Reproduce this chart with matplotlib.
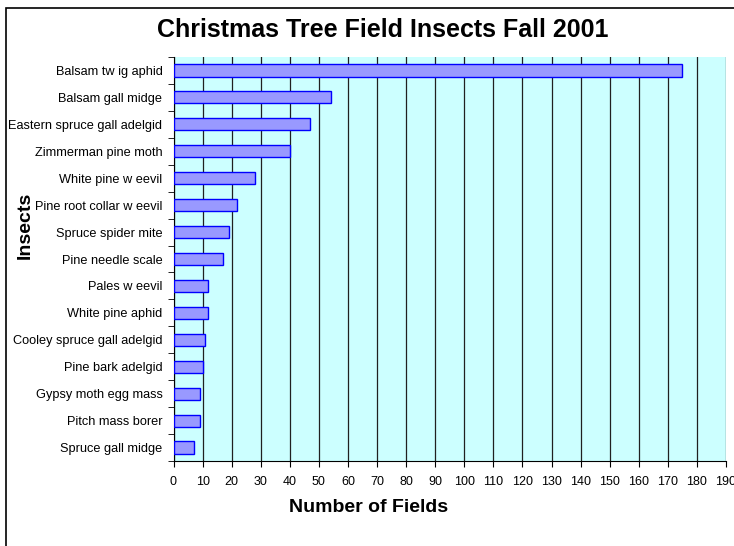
import matplotlib
matplotlib.use("Agg")
import matplotlib.pyplot as plt
from matplotlib.patches import Rectangle

plt.rcParams['font.family'] = ['Liberation Sans', 'DejaVu Sans']

# datos (de arriba hacia abajo)
insectos = [
    "Balsam tw ig aphid",
    "Balsam gall midge",
    "Eastern spruce gall adelgid",
    "Zimmerman pine moth",
    "White pine w eevil",
    "Pine root collar w eevil",
    "Spruce spider mite",
    "Pine needle scale",
    "Pales w eevil",
    "White pine aphid",
    "Cooley spruce gall adelgid",
    "Pine bark adelgid",
    "Gypsy moth egg mass",
    "Pitch mass borer",
    "Spruce gall midge",
]
campos = [175, 54, 47, 40, 28, 22, 19, 17, 12, 12, 11, 10, 9, 9, 7]
ticks_x = list(range(0, 200, 10))

fig = plt.figure(figsize=(7.34, 5.46), dpi=100)
W, H = 734, 546

# borde exterior del grafico (sale del lienzo por la derecha y abajo)
fig.patches.append(Rectangle((6 / W, -0.1), 1.2, 1 - 8 / H + 0.1,
                             transform=fig.transFigure, fill=False,
                             edgecolor='black', linewidth=1.2))

ax = fig.add_axes([173.5 / W, 1 - 461 / H, (726 - 173.5) / W, (461 - 57) / H])
ax.set_facecolor('#CCFFFF')

n = len(insectos)
pos = list(range(n - 1, -1, -1))
ax.barh(pos, campos, height=0.45, color='#9999FF', edgecolor='#0000FF',
        linewidth=1, zorder=3)

ax.set_xlim(0, 190)
ax.set_ylim(-0.5, n - 0.5)
ax.set_xticks(ticks_x)
ax.set_xticklabels([str(t) for t in ticks_x], fontsize=9)
ax.xaxis.grid(True, color='#202020', linewidth=0.9, zorder=1)
ax.set_axisbelow(True)

ax.set_yticks(pos)
ax.set_yticklabels(insectos, fontsize=9.2)
ax.tick_params(axis='y', length=0, pad=8)
# marcas entre categorias
ax.set_yticks([p + 0.5 for p in range(-1, n)], minor=True)
ax.tick_params(axis='y', which='minor', length=4, direction='out')
ax.tick_params(axis='x', length=4, direction='out', pad=7)

for s in ['top', 'right']:
    ax.spines[s].set_visible(False)
ax.spines['left'].set_color('black')
ax.spines['bottom'].set_color('black')

fig.text(383 / W, 1 - 30 / H, "Christmas Tree Field Insects Fall 2001",
         ha='center', va='center', fontsize=18, fontweight='bold')
fig.text(369 / W, 1 - 507 / H, "Number of Fields",
         ha='center', va='center', fontsize=14, fontweight='bold')
fig.text(25 / W, 1 - 225 / H, "Insects", rotation=90,
         ha='center', va='center', fontsize=14, fontweight='bold')

fig.savefig("out.png", dpi=100)
